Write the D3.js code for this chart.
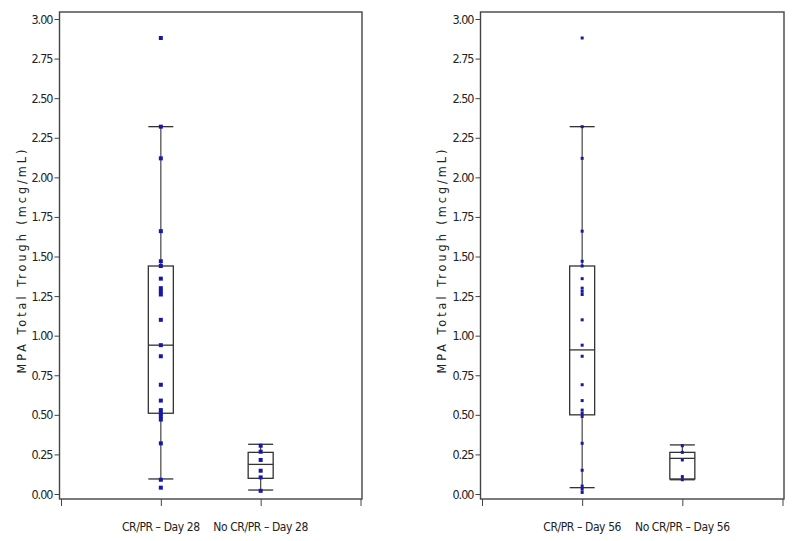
<!doctype html>
<head>
  <meta charset="utf-8">
  <script src="https://cdnjs.cloudflare.com/ajax/libs/d3/7.8.2/d3.min.js"></script>
</head>
<style>
    body { margin: 0; background: white; }
    svg text { font-family: "Liberation Sans Narrow", "DejaVu Sans Condensed", "Liberation Sans", sans-serif; fill: #222; }
</style>
<body>
    <div id="chart"></div>
    <script>
        // Datos
        const categories28 = ["CR/PR \u2013 Day 28", "No CR/PR \u2013 Day 28"];
        const categories56 = ["CR/PR \u2013 Day 56", "No CR/PR \u2013 Day 56"];
        const yTicks = [0, 0.25, 0.5, 0.75, 1.0, 1.25, 1.5, 1.75, 2.0, 2.25, 2.5, 2.75, 3.0];

        const crpr28 = [2.88, 2.32, 2.12, 1.66, 1.47, 1.44, 1.36, 1.30, 1.28, 1.26, 1.10, 0.94, 0.87, 0.69, 0.59, 0.53, 0.51, 0.49, 0.47, 0.32, 0.09, 0.04];
        const noCrpr28 = [0.305, 0.267, 0.215, 0.147, 0.105, 0.02];
        const crpr56 = [2.88, 2.32, 2.12, 1.66, 1.47, 1.44, 1.36, 1.30, 1.28, 1.26, 1.10, 0.94, 0.87, 0.69, 0.59, 0.53, 0.51, 0.49, 0.32, 0.15, 0.05, 0.03, 0.01];
        const noCrpr56 = [0.305, 0.263, 0.215, 0.11, 0.09];

        // Estadísticos de las cajas [CR/PR, No CR/PR]
        const whiskerLow28 = [0.095, 0.025];
        const q1_28 = [0.51, 0.099];
        const median28 = [0.94, 0.187];
        const q3_28 = [1.44, 0.263];
        const whiskerHigh28 = [2.32, 0.314];

        const whiskerLow56 = [0.04, 0.09];
        const q1_56 = [0.50, 0.095];
        const median56 = [0.91, 0.225];
        const q3_56 = [1.44, 0.263];
        const whiskerHigh56 = [2.32, 0.31];

        const width = 795, height = 541;
        const svg = d3.select('#chart').append('svg')
            .attr('width', width)
            .attr('height', height);

        function drawPanel(cfg) {
            const g = svg.append('g');
            const y = d3.scaleLinear().domain([0, 3]).range([494, 19]);
            const x = d3.scaleLinear().domain([0, 3]).range([cfg.left + 1.5, cfg.right - 1.5]);

            // Marco
            g.append('rect')
                .attr('x', cfg.left).attr('y', 12)
                .attr('width', cfg.right - cfg.left).attr('height', 499 - 12)
                .attr('fill', 'none').attr('stroke', '#444').attr('stroke-width', 1.4);

            // Eje Y
            const yAxis = g.append('g')
                .attr('transform', `translate(${cfg.left},0)`)
                .call(d3.axisLeft(y).tickValues(yTicks).tickFormat(d3.format('.2f')).tickSize(5).tickPadding(2));
            yAxis.select('.domain').remove();
            yAxis.selectAll('line').attr('stroke', '#444');
            yAxis.selectAll('text')
                .attr('font-size', 12.5)
                .attr('letter-spacing', -1)
                .attr('font-family', null)
                .style('font-weight', 500);

            // Eje X
            const xAxis = g.append('g')
                .attr('transform', `translate(0,499)`)
                .call(d3.axisBottom(x).tickValues([0, 1, 2, 3]).tickFormat('').tickSize(7));
            xAxis.select('.domain').remove();
            xAxis.selectAll('line').attr('stroke', '#444');

            g.selectAll('.xlabel')
                .data(cfg.categories)
                .enter().append('text')
                .attr('class', 'xlabel')
                .attr('x', (d, i) => x(i + 1))
                .attr('y', 531)
                .attr('text-anchor', 'middle')
                .attr('font-size', 12)
                .attr('letter-spacing', -0.4)
                .text(d => d);

            // Título eje Y
            g.append('text')
                .attr('transform', `translate(${cfg.titleX},260) rotate(-90)`)
                .attr('text-anchor', 'middle')
                .attr('font-size', 12.5)
                .attr('letter-spacing', 3)
                .text('MPA Total Trough (mcg/mL)');

            const boxW = 25;
            cfg.stats.forEach((s, i) => {
                const cx = x(i + 1);
                // bigote
                g.append('line')
                    .attr('x1', cx).attr('x2', cx)
                    .attr('y1', y(s.low)).attr('y2', y(s.high))
                    .attr('stroke', '#444').attr('stroke-width', 1.2);
                [s.low, s.high].forEach(v => {
                    g.append('line')
                        .attr('x1', cx - boxW / 2).attr('x2', cx + boxW / 2)
                        .attr('y1', y(v)).attr('y2', y(v))
                        .attr('stroke', '#333').attr('stroke-width', 1.3);
                });
                // caja
                g.append('rect')
                    .attr('x', cx - boxW / 2).attr('y', y(s.q3))
                    .attr('width', boxW).attr('height', y(s.q1) - y(s.q3))
                    .attr('fill', 'white').attr('stroke', '#333').attr('stroke-width', 1.3);
                g.append('line')
                    .attr('x1', cx - boxW / 2).attr('x2', cx + boxW / 2)
                    .attr('y1', y(s.median)).attr('y2', y(s.median))
                    .attr('stroke', '#333').attr('stroke-width', 1.3);
                // puntos
                g.selectAll(null)
                    .data(cfg.points[i])
                    .enter().append('rect')
                    .attr('x', cx - cfg.pt / 2)
                    .attr('y', d => y(d) - cfg.pt / 2)
                    .attr('width', cfg.pt).attr('height', cfg.pt)
                    .attr('fill', '#1818a8');
            });
        }

        function statsOf(lo, q1, med, q3, hi) {
            return lo.map((d, i) => ({ low: lo[i], q1: q1[i], median: med[i], q3: q3[i], high: hi[i] }));
        }

        drawPanel({
            left: 59.5, right: 362, titleX: 26, pt: 4,
            categories: categories28,
            points: [crpr28, noCrpr28],
            stats: statsOf(whiskerLow28, q1_28, median28, q3_28, whiskerHigh28),
        });
        drawPanel({
            left: 480.5, right: 784, titleX: 446, pt: 3,
            categories: categories56,
            points: [crpr56, noCrpr56],
            stats: statsOf(whiskerLow56, q1_56, median56, q3_56, whiskerHigh56),
        });
    </script>
</body>
